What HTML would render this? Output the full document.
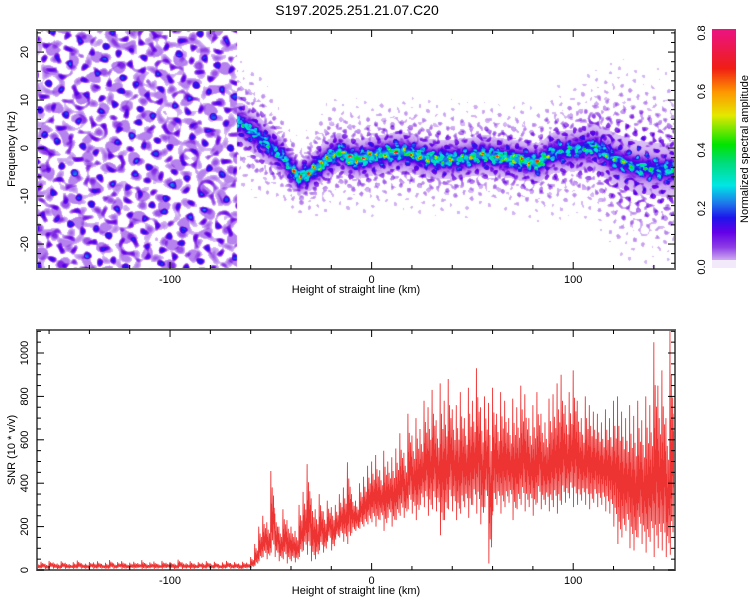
<!DOCTYPE html>
<html><head><meta charset="utf-8">
<style>
body{margin:0;background:#fff;width:750px;height:600px;overflow:hidden;position:relative;font-family:"Liberation Sans",sans-serif}
#spec{position:absolute;left:37px;top:30px}
#svg{position:absolute;left:0;top:0}
</style></head><body>
<canvas id="spec" width="638" height="239"></canvas>
<svg id="svg" width="750" height="600"></svg>
<script>
// ---- data: spectrogram ridge ----
const ridgeX=[-64.5,-56,-45,-36,-29,-21,-16,-11,-5.5,2.5,12,18,28,33,43,55,70,83,90,101,111,121,131,144,150];
const ridgeF=[5.2,2.3,-1.5,-6.3,-4.6,-2.1,-0.8,-2.1,-2.3,-1.5,-0.8,-1,-2.1,-2.3,-2.3,-1.5,-2.3,-3.1,-1,-0.4,0.2,-2.5,-3.9,-4.6,-4.5];
const ridgeA=[0.3,0.3,0.25,0.65,0.6,0.55,0.5,0.7,0.7,0.5,0.55,0.5,0.5,0.5,0.45,0.5,0.55,0.65,0.3,0.25,0.35,0.3,0.3,0.3,0.3];
const ridgeW=[4,4,3,2.5,3,3.5,3.5,3.5,3.5,3.5,3.5,3.5,3.5,3.5,3.5,3.5,3.5,3.5,4,4,5,6,6,6,6];
const noiseEnd=-67, noiseAmp=0.15;
// ---- data: SNR envelope per 2 km bin from -166 ----
const snrStart=-166, snrStep=2;
const snrHigh=[30,38,28,42,35,30,40,33,27,36,44,31,29,37,35,40,28,33,46,30,36,41,29,34,38,32,45,30,35,39,28,42,33,37,30,48,35,31,40,29,36,33,41,30,38,27,35,42,32,36,30,38,34,
60,120,200,250,220,456,260,200,280,230,200,180,300,360,488,330,280,350,270,320,290,300,350,380,497,350,320,400,430,480,500,530,460,550,500,520,560,630,540,720,620,700,650,780,750,830,690,860,780,880,740,760,820,700,840,780,930,750,800,770,840,720,820,780,700,790,750,850,810,700,760,820,720,680,790,810,860,900,760,820,920,780,700,800,760,730,720,680,740,700,780,800,730,700,760,710,780,690,800,760,1050,850,920,700,1106,720];
const snrLow=[5,8,4,10,6,3,9,5,7,4,8,6,5,9,4,7,6,3,8,5,10,4,6,7,5,9,3,6,8,4,7,5,9,6,4,8,5,7,3,6,9,4,7,5,8,6,4,9,5,7,3,6,8,
10,20,40,60,50,80,60,40,50,30,40,35,60,90,70,40,50,90,80,130,90,140,150,130,120,170,180,190,200,210,220,200,230,180,240,200,230,250,240,280,260,230,300,290,250,280,270,160,230,280,270,230,260,290,240,300,260,210,290,30,270,300,260,290,310,230,280,300,270,290,250,310,280,300,270,290,260,300,310,330,290,300,320,300,280,310,290,300,270,260,200,120,150,180,100,90,150,120,80,130,60,100,90,60,70,140];
const xTicks=[-100,0,100];
const fTicks=[-20,-10,0,10,20];
const snrTicks=[0,200,400,600,800,1000];
const cbTicks=[0.0,0.2,0.4,0.6,0.8];

// ---- axes ----
const X0=37,X1=675,XMIN=-166,XMAX=150.5;
const sx=v=>X0+(v-XMIN)/(XMAX-XMIN)*(X1-X0);
const T0=30,T1=269,FMIN=-25.2,FMAX=24.6;
const sf=v=>T1-(v-FMIN)/(FMAX-FMIN)*(T1-T0);
const B0=330,B1=570,SMAX=1106;
const ss=v=>B1-v/SMAX*(B1-B0);
const CB0=29,CBX=712,CBW=24;
const sc=v=>267-v/0.8*(267-33);

// ---- colormap ----
const stops=[[0,235,222,250],[0.03,200,160,240],[0.07,140,60,230],[0.12,100,0,232],[0.17,30,20,235],[0.22,30,120,235],[0.28,0,230,230],[0.36,0,220,120],[0.42,0,228,0],[0.52,228,232,0],[0.6,255,150,0],[0.68,240,30,20],[0.8,235,20,120]];
function cmap(v){if(v>=0.8)return stops[stops.length-1].slice(1);
 for(let i=1;i<stops.length;i++){if(v<=stops[i][0]){const a=stops[i-1],b=stops[i],t=(v-a[0])/(b[0]-a[0]);return [a[1]+(b[1]-a[1])*t,a[2]+(b[2]-a[2])*t,a[3]+(b[3]-a[3])*t];}}return stops[0].slice(1);}
function interp(xs,ys,x){if(x<=xs[0])return ys[0];for(let i=1;i<xs.length;i++){if(x<=xs[i]){const t=(x-xs[i-1])/(xs[i]-xs[i-1]);return ys[i-1]+(ys[i]-ys[i-1])*t;}}return ys[ys.length-1];}
// quasi-irregular blob texture (visual only)
function tex(px,py,s){const n=Math.sin(0.61*px+0.23*py+s)+Math.sin(-0.19*px+0.67*py+1.7+2*s)+Math.sin(0.43*px-0.52*py+2.9+3*s)+Math.sin(0.29*px+0.71*py+4.1+s)+Math.sin(-0.73*px+0.11*py+0.5+4*s);
 return Math.max(0,Math.min(1,(n-0.9)/2.4));}

// ---- spectrogram ----
(function(){const c=document.getElementById('spec'),ctx=c.getContext('2d');const W=c.width,H=c.height;const img=ctx.createImageData(W,H);
 for(let py=0;py<H;py++){const f=FMAX-(py+0.5)/H*(FMAX-FMIN);
  for(let px=0;px<W;px++){const x=XMIN+(px+0.5)/W*(XMAX-XMIN);let val=0;
   if(x<noiseEnd){const t=tex(px*0.7,py*0.7,0.7),t2=tex(px*0.55+40,py*0.6+17,2.3),t3=tex(px*0.4+7,py*0.45+3,3.7);
     val=noiseAmp*t+0.05*t2+0.03*Math.min(1,t3*3)+((t+t2+t3>0)?0.012:0);}
   else{const fc=interp(ridgeX,ridgeF,x),a=interp(ridgeX,ridgeA,x),bw=interp(ridgeX,ridgeW,x);const d=f-fc;
    const t1=tex(px*1.2,py*1.2,1.3),t2=tex(px,py,2.9),t3=tex(px*1.1,py,4.4),t4=tex(px*0.9,py*1.1,5.5);
    val=a*Math.exp(-d*d/(2*0.9*0.9))*(0.25+0.75*Math.min(1,t1*1.4))
       +0.16*Math.exp(-d*d/(2*1.6*1.6))*(0.5+0.5*Math.min(1,t4*2))
       +0.14*Math.exp(-d*d/(2*bw*bw))*Math.min(1,t2*2+0.15)
       +0.07*Math.exp(-d*d/(2*(2*bw)*(2*bw)))*t3;}
   const k=(py*W+px)*4;
   if(val<0.014){img.data[k]=255;img.data[k+1]=255;img.data[k+2]=255;}
   else{const col=cmap(val);img.data[k]=col[0];img.data[k+1]=col[1];img.data[k+2]=col[2];}
   img.data[k+3]=255;}}
 ctx.putImageData(img,0,0);})();

// ---- SVG ----
const svg=document.getElementById('svg');const NS='http://www.w3.org/2000/svg';
function mk(tag,attrs,parent){const e=document.createElementNS(NS,tag);for(const k in attrs)e.setAttribute(k,attrs[k]);(parent||svg).appendChild(e);return e;}
function txt(s,x,y,size,anchor,rot){const e=mk('text',{x:x,y:y,'font-size':size,'text-anchor':anchor||'middle',fill:'#000','font-family':'Liberation Sans, sans-serif'});if(rot)e.setAttribute('transform','rotate(-90 '+x+' '+y+')');e.textContent=s;return e;}

const title=txt('S197.2025.251.21.07.C20',357,15,14);



// colorbar
const cbG=mk('g',{});


for(let y=CB0;y<260;y++){const v=(267-y)/(267-33)*0.8;const c=cmap(Math.max(0.008,v));mk('rect',{x:CBX,y:y,width:CBW,height:1.2,fill:'rgb('+c.map(Math.round).join(',')+')'},cbG);}
mk('rect',{x:CBX,y:260,width:CBW,height:8,fill:'#f2eafa'},cbG);
cbTicks.forEach(v=>{const t=txt(v.toFixed(1),705,sc(v),11,'middle',true);
 
 });
const cbt=txt('Normalized spectral amplitude',748,149,11,'middle',true);



mk('clipPath',{id:'clipB'}).appendChild(Object.assign(document.createElementNS(NS,'rect')));
const cr=document.querySelector('#clipB rect');cr.setAttribute('x',X0);cr.setAttribute('y',B0);cr.setAttribute('width',X1-X0);cr.setAttribute('height',B1-B0);

function frame(y0,y1,name){const g=mk('g',{});
 
 
 mk('rect',{x:X0,y:y0,width:X1-X0,height:y1-y0,fill:'none',stroke:'#666','stroke-width':2},g);
 for(let v=-160;v<=150;v+=20){const X=sx(v);const L=xTicks.includes(v)?7:4;
  mk('line',{x1:X,y1:y1,x2:X,y2:y1-L,stroke:'#000'},g);mk('line',{x1:X,y1:y0,x2:X,y2:y0+L,stroke:'#000'},g);}
 xTicks.forEach(v=>{const t=txt(String(v),sx(v),y1+14,11);
  
  });
 const xt=txt('Height of straight line (km)',356,y1+24,11);
 
 
 return g;}

// top panel
const g1=frame(T0,T1,'spectrogram-axes');
for(let v=-24;v<=24;v+=2){const Y=sf(v);const L=(v%10===0)?7:4;mk('line',{x1:X0,y1:Y,x2:X0+L,y2:Y,stroke:'#000'},g1);mk('line',{x1:X1,y1:Y,x2:X1-L,y2:Y,stroke:'#000'},g1);}
fTicks.forEach(v=>{const t=txt(String(v),28,sf(v),11,'middle',true);
 
 });
const yt1=txt('Frequency (Hz)',15,149,11,'middle',true);



// bottom panel: dense zigzag within each bin's [low, high] envelope
const subPattern=[1,0.0,0.6,0.25,0.8,0.15,0.5,0.35,0.7,0.1,0.55,0.3];
const line=mk('polyline',{fill:'none',stroke:'#ee3333','stroke-width':0.9,'stroke-linejoin':'bevel','clip-path':'url(#clipB)'});


let pts=[];
for(let i=0;i<snrHigh.length;i++){const x=snrStart+i*snrStep;const hi=snrHigh[i],lo=snrLow[i];
 for(let j=0;j<subPattern.length;j++){const v=lo+(hi-lo)*subPattern[j];
  pts.push(sx(x+j*snrStep/subPattern.length).toFixed(2)+','+ss(v).toFixed(1));}}
line.setAttribute('points',pts.join(' '));
const g2=frame(B0,B1,'snr-axes');
for(let v=0;v<=1100;v+=50){const Y=ss(v);const L=(v%200===0)?7:4;mk('line',{x1:X0,y1:Y,x2:X0+L,y2:Y,stroke:'#000'},g2);mk('line',{x1:X1,y1:Y,x2:X1-L,y2:Y,stroke:'#000'},g2);}
snrTicks.forEach(v=>{const t=txt(String(v),28,ss(v),11,'middle',true);
 
 });
const yt2=txt('SNR (10 * v/v)',15,450,11,'middle',true);


</script>
</body></html>
